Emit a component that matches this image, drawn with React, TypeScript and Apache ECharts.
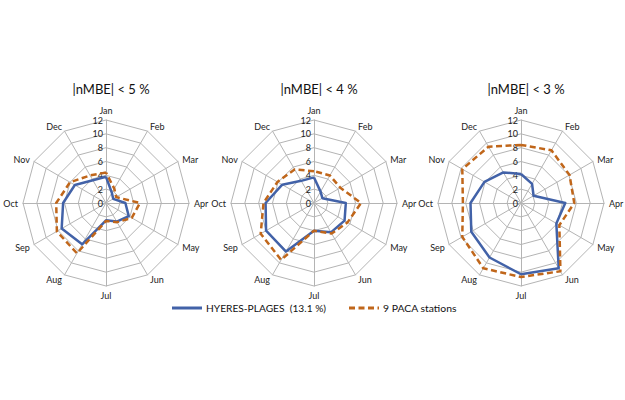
import React, { useEffect, useRef } from "react";
import * as echarts from "echarts";

const months = ["Jan", "Feb", "Mar", "Apr", "May", "Jun", "Jul", "Aug", "Sep", "Oct", "Nov", "Dec"];
const titles = ["|nMBE| < 5 %", "|nMBE| < 4 %", "|nMBE| < 3 %"];
const seriesNames = ["HYERES-PLAGES  (13.1 %)", "9 PACA stations"];

const hyeres5 = [3.8, 1.7, 1.2, 2.8, 3.8, 3.1, 2.5, 6.9, 7.4, 6.2, 5.2, 3.8];
const paca5 = [4.4, 2.4, 1.7, 4.9, 4.3, 3.2, 2.6, 8.4, 8.2, 7.2, 6.0, 4.6];
const hyeres4 = [3.7, 1.9, 1.4, 4.6, 5.1, 4.9, 4.0, 8.1, 8.0, 7.0, 5.3, 3.7];
const paca4 = [4.6, 4.6, 4.4, 6.8, 5.6, 5.1, 4.0, 9.5, 8.9, 7.3, 6.1, 5.6];
const hyeres3 = [4.2, 3.2, 2.1, 6.4, 5.9, 10.9, 10.3, 9.1, 8.3, 7.3, 6.1, 5.1];
const paca3 = [8.4, 8.8, 8.1, 7.7, 6.4, 11.4, 10.7, 10.9, 9.8, 8.4, 9.8, 9.4];

const blueSets = [hyeres5, hyeres4, hyeres3];
const orangeSets = [paca5, paca4, paca3];

const BLUE = "#4262a8";
const ORANGE = "#c0661a";
const GRID = "#b4b4b4";
const FONT = "Lato, 'Open Sans', sans-serif";

// ECharts radar runs counter-clockwise; reorder so months run clockwise from the top.
const order = [0, 11, 10, 9, 8, 7, 6, 5, 4, 3, 2, 1];
const reorder = (arr: any[]) => order.map((i) => arr[i]);

export default function App() {
  const ref = useRef<HTMLDivElement>(null);
  useEffect(() => {
    if (!ref.current) return;
    const chart = echarts.init(ref.current, null, { renderer: "svg" });
    const centers = [106, 314, 521];
    const cy = 203;
    const radar = centers.map((cx) => ({
      center: [cx, cy],
      radius: 83,
      shape: "polygon",
      startAngle: 90,
      splitNumber: 6,
      indicator: reorder(months).map((m: string, i: number) =>
        i === 0
          ? { name: m, min: 0, max: 12, axisLabel: { show: true } }
          : { name: m, min: 0, max: 12 }
      ),
      axisName: { color: "#222", fontSize: 9, fontFamily: FONT },
      nameGap: 5,
      axisLabel: {
        show: false,
        color: "#222",
        fontSize: 9,
        fontFamily: FONT,
        margin: 3,
        showMinLabel: true,
        showMaxLabel: true,
      },
      axisTick: { show: false },
      axisLine: { lineStyle: { color: GRID, width: 1 } },
      splitLine: { lineStyle: { color: GRID, width: 1 } },
      splitArea: { show: false },
    }));
    const series: any[] = [];
    for (let k = 0; k < 3; k++) {
      series.push({
        type: "radar",
        radarIndex: k,
        name: seriesNames[0],
        symbol: "none",
        silent: true,
        data: [{ value: reorder(blueSets[k]), lineStyle: { color: BLUE, width: 2.5 } }],
        z: 3,
      });
      series.push({
        type: "radar",
        radarIndex: k,
        name: seriesNames[1],
        symbol: "none",
        silent: true,
        data: [
          { value: reorder(orangeSets[k]), lineStyle: { color: ORANGE, width: 2.5, type: [6, 3.5] } },
        ],
        z: 4,
      });
    }
    const titleOpts = titles.map((t, k) => ({
      text: t,
      left: centers[k],
      top: 77,
      textAlign: "center",
      textStyle: { fontSize: 13, fontWeight: "normal", color: "#111", fontFamily: FONT },
    }));
    chart.setOption({
      animation: false,
      backgroundColor: "#fff",
      title: titleOpts,
      radar,
      series,
      graphic: [
        { type: "line", shape: { x1: 172, y1: 308, x2: 202, y2: 308 }, style: { stroke: BLUE, lineWidth: 3 } },
        {
          type: "text",
          x: 206,
          y: 308,
          style: { text: seriesNames[0], fill: "#111", fontSize: 10.2, fontFamily: FONT, verticalAlign: "middle" },
        },
        {
          type: "line",
          shape: { x1: 349, y1: 308, x2: 379, y2: 308 },
          style: { stroke: ORANGE, lineWidth: 3, lineDash: [6, 3.5] },
        },
        {
          type: "text",
          x: 383,
          y: 308,
          style: { text: seriesNames[1], fill: "#111", fontSize: 10.4, fontFamily: FONT, verticalAlign: "middle" },
        },
      ],
    });
    return () => chart.dispose();
  }, []);
  return (
    <div
      ref={ref}
      style={{ position: "fixed", left: 0, top: 0, width: 625, height: 400, background: "#fff" }}
    />
  );
}
